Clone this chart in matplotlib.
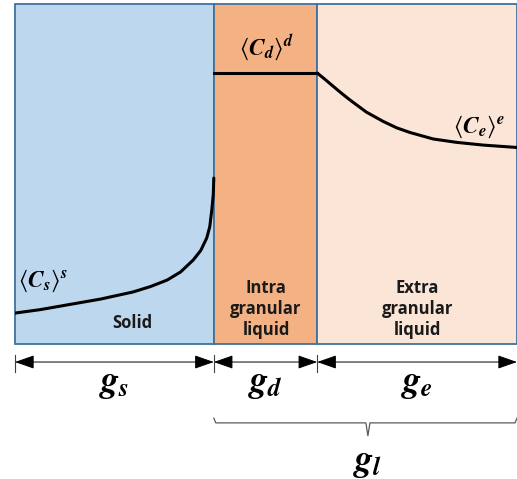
import matplotlib.pyplot as plt
from matplotlib.patches import Rectangle, FancyArrowPatch
import numpy as np

plt.rcParams['mathtext.fontset'] = 'custom'
plt.rcParams['mathtext.it'] = 'STIXGeneral:italic:bold'
plt.rcParams['mathtext.rm'] = 'STIXGeneral'
plt.rcParams['mathtext.bf'] = 'STIXGeneral:italic:bold'

# zone boundaries as fractions of the total width (g_s, g_d, g_e)
zone_edges = [0.0, 0.396, 0.602, 1.0]
zone_colors = ['#BDD7EE', '#F4B183', '#FBE5D6']
zone_texts = ['Solid', 'Intra\ngranular\nliquid', 'Extra\ngranular\nliquid']
zone_symbols = [r'$g_s$', r'$g_d$', r'$g_e$']

# concentration curves (x = fraction, y = relative concentration)
solid_x = [0.0, 0.05, 0.104, 0.17, 0.235, 0.27, 0.303, 0.33, 0.355, 0.37, 0.382, 0.388, 0.392, 0.395, 0.396]
solid_y = [0.091, 0.101, 0.115, 0.132, 0.153, 0.169, 0.188, 0.212, 0.247, 0.275, 0.312, 0.345, 0.394, 0.44, 0.488]
intra_x = [0.396, 0.602]
intra_y = [0.797, 0.797]
extra_x = [0.602, 0.617, 0.633, 0.65, 0.667, 0.70, 0.733, 0.76, 0.787, 0.833, 0.88, 0.933, 1.0]
extra_y = [0.797, 0.779, 0.759, 0.738, 0.718, 0.682, 0.655, 0.636, 0.622, 0.603, 0.593, 0.585, 0.578]

fig = plt.figure(figsize=(5.17, 4.79), dpi=100)
ax = fig.add_axes([15 / 517, 135 / 479, 502 / 517, 340 / 479])
ax.set_xlim(0, 1)
ax.set_ylim(0, 1)
ax.axis('off')

border = '#41719C'
for i in range(3):
    ax.add_patch(Rectangle((zone_edges[i], 0), zone_edges[i + 1] - zone_edges[i], 1,
                           facecolor=zone_colors[i], edgecolor=border, lw=1.3, clip_on=False))

ax.plot(solid_x, solid_y, color='black', lw=2.2, solid_capstyle='round')
ax.plot(intra_x, intra_y, color='black', lw=2.2)
ax.plot(extra_x, extra_y, color='black', lw=2.2, solid_capstyle='round')

# labels inside zones
text_pos = [(0.233, 0.063), (0.5, 0.103), (0.801, 0.103)]
for (tx, ty), t in zip(text_pos, zone_texts):
    ax.text(tx, ty, t, ha='center', va='center', fontsize=12, fontweight='bold',
            family='Open Sans', color='#1a1a1a', linespacing=1.2)

ax.text(0.005, 0.185, r'$\langle C_s \rangle^s$', fontsize=17, ha='left', va='center')
ax.text(0.5, 0.87, r'$\langle C_d \rangle^d$', fontsize=17, ha='center', va='center')
ax.text(0.925, 0.64, r'$\langle C_e \rangle^e$', fontsize=17, ha='center', va='center')

# width arrows
ay = -0.053
for i in range(3):
    arr = FancyArrowPatch((zone_edges[i], ay), (zone_edges[i + 1], ay),
                          arrowstyle='<|-|>,head_length=1.0,head_width=0.35',
                          mutation_scale=12, color='black', lw=0.7,
                          shrinkA=0, shrinkB=0, clip_on=False)
    ax.add_patch(arr)
    ax.text((zone_edges[i] + zone_edges[i + 1]) / 2, -0.118, zone_symbols[i],
            fontsize=26, ha='center', va='center')
for xe in zone_edges[:-1]:
    ax.plot([xe, xe], [ay + 0.02, ay - 0.03], color='#404040', lw=0.8, clip_on=False)

# brace for g_l
bx0, bx1 = zone_edges[1], zone_edges[3]
bm = 0.703
ax.plot([bx0, bx0 + 0.004, bm - 0.004, bm, bm + 0.004, bx1 - 0.004, bx1],
        [-0.218, -0.232, -0.232, -0.27, -0.232, -0.232, -0.218],
        color='#595959', lw=0.9, clip_on=False)
ax.text(bm, -0.35, r'$g_l$', fontsize=26, ha='center', va='center')

fig.savefig('out.png', dpi=100)
